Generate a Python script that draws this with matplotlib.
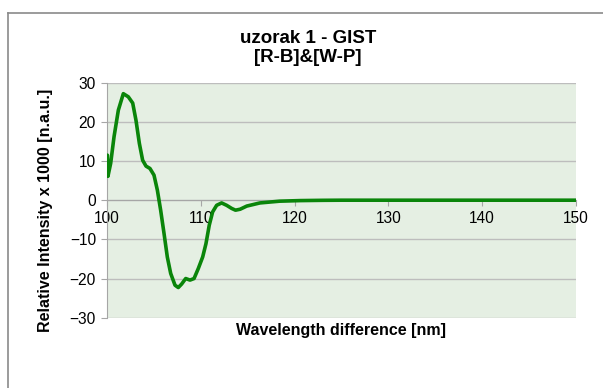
import matplotlib
matplotlib.use("Agg")
import matplotlib.pyplot as plt
from matplotlib.lines import Line2D

# wavelength difference [nm] and relative intensity x 1000
wavelength = [100.04, 100.1, 100.39, 100.75, 101.21, 101.74, 102.27, 102.74, 103.09,
              103.45, 103.8, 104.16, 104.58, 105.01, 105.37, 105.72, 106.08, 106.43,
              106.79, 107.25, 107.6, 107.96, 108.39, 108.85, 109.28, 109.74, 110.2,
              110.55, 110.9, 111.26, 111.69, 112.22, 112.75, 113.29, 113.7, 114.2,
              114.9, 116.3, 118.4, 120.6, 123.0, 125.0, 130.0, 135.0, 140.0, 145.0, 150.0]
intensity = [11.5, 6.1, 9.4, 16.2, 23.0, 27.2, 26.4, 24.8, 20.4,
             14.5, 10.2, 8.7, 8.1, 6.4, 2.55, -2.55, -8.5, -14.5,
             -18.7, -21.7, -22.3, -21.4, -20.0, -20.4, -20.0, -17.4, -14.5,
             -11.1, -6.4, -3.0, -1.3, -0.7, -1.3, -2.1, -2.55, -2.3,
             -1.5, -0.7, -0.25, -0.1, -0.03, 0.0, 0.0, 0.0, 0.0, 0.0, 0.0]

x_ticks = [100, 110, 120, 130, 140, 150]
y_ticks = [-30, -20, -10, 0, 10, 20, 30]

TITLE = "uzorak 1 - GIST\n[R-B]&[W-P]"
X_LABEL = "Wavelength difference [nm]"
Y_LABEL = "Relative Intensity x 1000 [n.a.u.]"

W, H = 603, 388
plt.rcParams["font.family"] = ["Liberation Sans", "DejaVu Sans"]

fig = plt.figure(figsize=(W / 100, H / 100), dpi=100)
fig.patch.set_facecolor("white")

# chart area frame (only top and left edges fall inside the image)
border = "#8a8a8a"
fig.add_artist(Line2D([8 / W, 8 / W], [0, 1 - 13 / H], color=border, lw=1.2,
                      transform=fig.transFigure))
fig.add_artist(Line2D([8 / W, 1], [1 - 13 / H, 1 - 13 / H], color=border, lw=1.2,
                      transform=fig.transFigure))

left, right, top, bottom = 107, 576, 82.7, 317.7
ax = fig.add_axes([left / W, 1 - bottom / H, (right - left) / W, (bottom - top) / H])
ax.set_facecolor("#e5efe3")

ax.plot(wavelength, intensity, color="#0a850a", lw=2.6, solid_capstyle="round", zorder=3)

ax.set_xlim(100, 150)
ax.set_ylim(-30, 30)
ax.set_xticks(x_ticks)
ax.set_yticks(y_ticks)

ax.yaxis.grid(True, color="#bdbdbd", lw=1.0)
ax.set_axisbelow(True)

for side in ("top", "right"):
    ax.spines[side].set_visible(False)
ax.spines["left"].set_color("#a6a6a6")
ax.spines["bottom"].set_position(("data", 0))
ax.spines["bottom"].set_color("#a6a6a6")

ax.tick_params(axis="x", direction="out", length=4, width=0.8, color="#a6a6a6",
               labelsize=11.2, pad=4)
ax.tick_params(axis="y", direction="out", length=4, width=0.8, color="#a6a6a6",
               labelsize=11.2, pad=4)

fig.text(308 / W, 1 - 48 / H, TITLE, ha="center", va="center", fontsize=13.5,
         fontweight="bold", linespacing=1.15)
fig.text((left + right) / 2 / W, 1 - 331 / H, X_LABEL, ha="center", va="center",
         fontsize=11.5, fontweight="bold")
fig.text(46 / W, 1 - 210 / H, Y_LABEL, ha="center", va="center", rotation=90,
         fontsize=11.5, fontweight="bold")

fig.savefig("out.png", dpi=100)
